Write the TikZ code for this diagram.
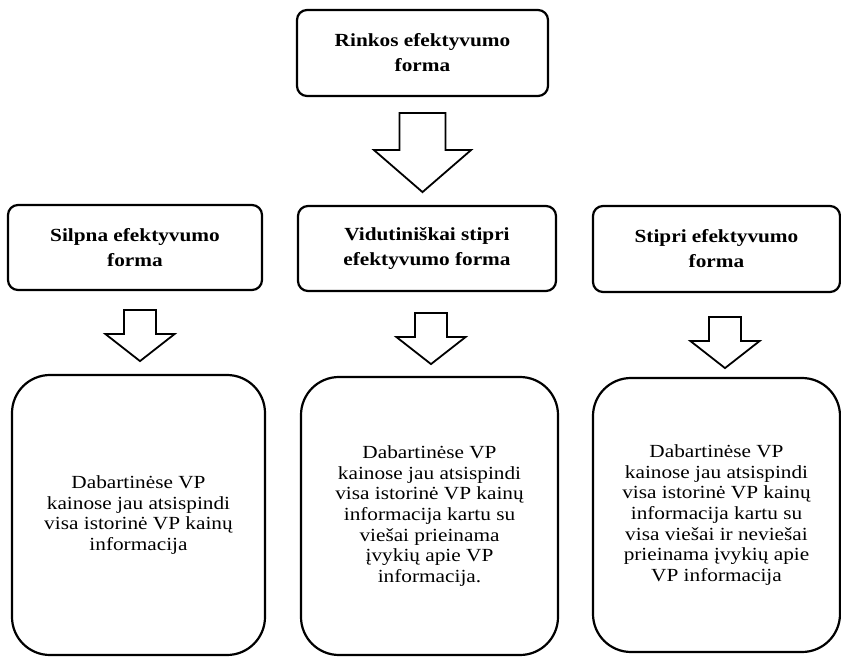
\documentclass[tikz,border=0pt]{standalone}
\usepackage{fontspec}
\setmainfont[FakeStretch=1.15]{Liberation Serif}
\usetikzlibrary{calc}

\begin{document}
\begin{tikzpicture}[x=1pt, y=1pt,
    formbox/.style={draw, line width=2.2pt, rounded corners=10pt, align=center, inner sep=0pt, font=\bfseries\fontsize{18.5}{25}\selectfont},
    infobox/.style={draw, line width=2.2pt, rounded corners=38pt, align=center, inner sep=0pt, font=\fontsize{18.5}{20.7}\selectfont},
    fatarrow/.style={draw, line width=1.8pt, fill=white, line join=miter}]
            \useasboundingbox (0,0) rectangle (841,657);
            \node[formbox, minimum width=251, minimum height=86] (rinka) at (422.5,604) {Rinkos efektyvumo\\forma};
            \node[formbox, minimum width=254, minimum height=85] (silpna) at (135,409.5) {Silpna efektyvumo\\forma};
            \node[formbox, minimum width=258, minimum height=85] (vidut) at (427,408.5) {Vidutiniškai stipri\\efektyvumo forma};
            \node[formbox, minimum width=247, minimum height=86] (stipri) at (716.5,408) {Stipri efektyvumo\\forma};
            \node[infobox, minimum width=253, minimum height=280] (silpnatxt) at (138.5,142) {Dabartinėse VP\\kainose jau atsispindi\\visa istorinė VP kainų\\informacija};
            \node[infobox, minimum width=257, minimum height=278] (viduttxt) at (429.5,141) {Dabartinėse VP\\kainose jau atsispindi\\visa istorinė VP kainų\\informacija kartu su\\viešai prieinama\\įvykių apie VP\\informacija.};
            \node[infobox, minimum width=247, minimum height=274] (stipritxt) at (716.5,142) {Dabartinėse VP\\kainose jau atsispindi\\visa istorinė VP kainų\\informacija kartu su\\visa viešai ir neviešai\\prieinama įvykių apie\\VP informacija};
            \draw[fatarrow] ($(rinka.south)+(0,-16)$) ++(-23,0) -- ++(46,0) -- ++(0,-37) -- ++(25.5,0) -- ++(-48.5,-42) -- ++(-48.5,42) -- ++(25.5,0) -- cycle;
            \draw[fatarrow] ($(silpna.south)+(5,-19)$) ++(-16,0) -- ++(32,0) -- ++(0,-24) -- ++(18.5,0) -- ++(-34.5,-27) -- ++(-34.5,27) -- ++(18.5,0) -- cycle;
            \draw[fatarrow] ($(vidut.south)+(4,-21)$) ++(-16,0) -- ++(32,0) -- ++(0,-24) -- ++(18.5,0) -- ++(-34.5,-27) -- ++(-34.5,27) -- ++(18.5,0) -- cycle;
            \draw[fatarrow] ($(stipri.south)+(8.5,-24)$) ++(-16,0) -- ++(32,0) -- ++(0,-24) -- ++(18.5,0) -- ++(-34.5,-27) -- ++(-34.5,27) -- ++(18.5,0) -- cycle;
        \end{tikzpicture}
\end{document}
